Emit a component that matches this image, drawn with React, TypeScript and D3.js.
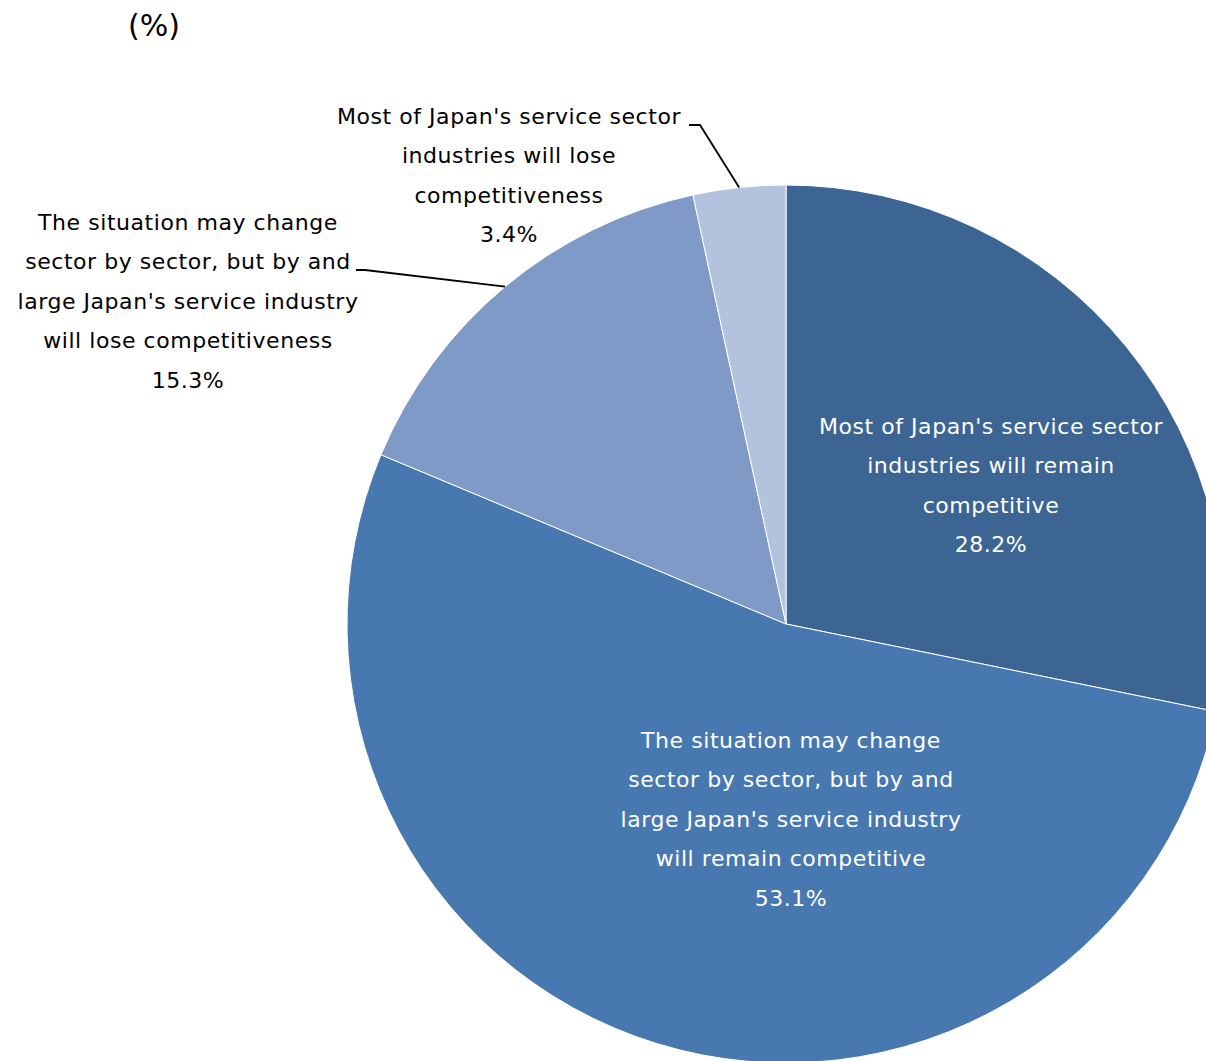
import React from "react";
import * as d3 from "d3";

const categories = [
  ["Most of Japan's service sector", "industries will remain", "competitive"],
  ["The situation may change", "sector by sector, but by and", "large Japan's service industry", "will remain competitive"],
  ["The situation may change", "sector by sector, but by and", "large Japan's service industry", "will lose competitiveness"],
  ["Most of Japan's service sector", "industries will lose", "competitiveness"],
];
const values = [28.2, 53.1, 15.3, 3.4];
const colors = ["#3D6594", "#4878B0", "#7F9AC6", "#B3C2DD"];
const textColors = ["#FFFFFF", "#FFFFFF", "#000000", "#000000"];
const unitLabel = "(%)";

const W = 1206, H = 1061;
const cx = 786, cy = 624, R = 439;
const lineH = 39.5;
const labelPos = [
  { x: 991, y: 426 },
  { x: 791, y: 740 },
  { x: 188, y: 222 },
  { x: 509, y: 116 },
];
const leaders: Record<number, { frac: number; pts: [number, number][] }> = {
  2: { frac: 0.5, pts: [[365, 270], [356, 270]] },
  3: { frac: 0.5, pts: [[700, 125], [689, 125]] },
};

export default function App() {
  const pie = d3.pie<number>().sort(null).value((d) => d);
  const arcs = pie(values);
  const arc = d3.arc<d3.PieArcDatum<number>>().innerRadius(0).outerRadius(R);
  const font = "'DejaVu Sans', Verdana, sans-serif";
  return (
    <svg width={W} height={H} style={{ position: "absolute", left: 0, top: 0 }}>
      <rect width={W} height={H} fill="#fff" />
      <text x={154} y={25} fontFamily={font} fontSize={30} textAnchor="middle" dominantBaseline="central">{unitLabel}</text>
      <g transform={`translate(${cx},${cy})`}>
        {arcs.map((a, i) => (
          <path key={i} d={arc(a) || ""} fill={colors[i]} stroke="#fff" strokeWidth={1} />
        ))}
      </g>
      {arcs.map((a, i) => {
        const l = leaders[i];
        if (!l) return null;
        const ang = a.startAngle + (a.endAngle - a.startAngle) * l.frac;
        const sx = cx + R * Math.sin(ang);
        const sy = cy - R * Math.cos(ang);
        const p = [[sx, sy], ...l.pts];
        return (
          <polyline key={"l" + i} points={p.map((q) => q.join(",")).join(" ")} fill="none" stroke="#000" strokeWidth={1.8} />
        );
      })}
      {categories.map((lines, i) => {
        const all = [...lines, `${values[i].toFixed(1)}%`];
        return (
          <text key={"t" + i} fontFamily={font} fontSize={22} letterSpacing={0.55} fill={textColors[i]} textAnchor="middle">
            {all.map((s, j) => (
              <tspan key={j} x={labelPos[i].x} y={labelPos[i].y + j * lineH} dominantBaseline="central">{s}</tspan>
            ))}
          </text>
        );
      })}
    </svg>
  );
}
